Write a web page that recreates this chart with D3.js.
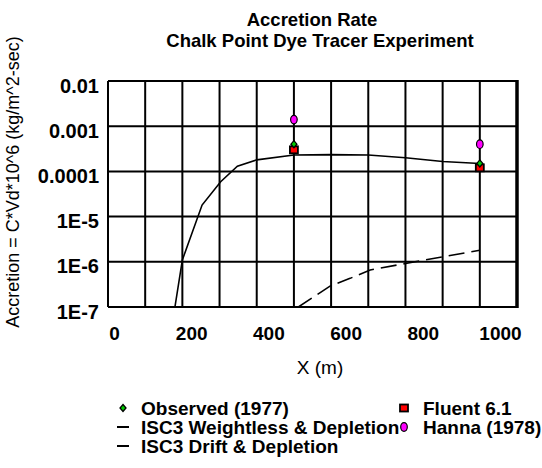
<!DOCTYPE html>
<html>
<head>
<meta charset="utf-8">
<script src="https://cdn.jsdelivr.net/npm/d3@7"></script>
<style>
  body { margin: 0; background: #fff; }
  svg { font-family: "Liberation Sans", Arial, sans-serif; }
</style>
</head>
<body>
<svg id="chart" width="542" height="468"></svg>
<script>
// weightless & depletion curve (solid)
var weightlessX = [180, 200, 253, 303, 348, 400, 500, 600, 700, 800, 900, 1000];
var weightlessY = [1e-7, 1.1e-6, 1.8e-5, 5.9e-5, 1.3e-4, 1.8e-4, 2.3e-4, 2.35e-4, 2.3e-4, 2.0e-4, 1.65e-4, 1.5e-4];

// drift & depletion curve (dashed)
var driftX = [512, 597, 651, 705, 804, 903, 1000];
var driftY = [1e-7, 2.9e-7, 4.3e-7, 6.6e-7, 9.3e-7, 1.3e-6, 1.8e-6];

var observedX = [500, 1000];
var observedY = [4.0e-4, 1.5e-4];
var fluentX = [500, 1000];
var fluentY = [3.0e-4, 1.2e-4];
var hannaX = [500, 1000];
var hannaY = [1.4e-3, 4.0e-4];

var xTicks = [0, 200, 400, 600, 800, 1000];
var xGrid = [0, 100, 200, 300, 400, 500, 600, 700, 800, 900, 1000, 1100];
var yTicks = [1e-2, 1e-3, 1e-4, 1e-5, 1e-6, 1e-7];
var yTickLabels = ["0.01", "0.001", "0.0001", "1E-5", "1E-6", "1E-7"];

var MARGINS = { left: 108, right: 25, top: 81, bottom: 161 };
var WIDTH = 542, HEIGHT = 468;

var svg = d3.select("#chart");

var xRange = d3.scaleLinear().domain([0, 1100]).range([MARGINS.left, WIDTH - MARGINS.right]);
var yRange = d3.scaleLog().domain([1e-7, 1e-2]).range([HEIGHT - MARGINS.bottom, MARGINS.top]);
// the tick labels sit a bit to the right of their gridlines in the original
var xLabelRange = d3.scaleLinear().domain([0, 1000]).range([114, 500]);

// clip for the curves
svg.append("defs").append("clipPath").attr("id", "clip")
    .append("rect")
    .attr("x", MARGINS.left).attr("y", MARGINS.top)
    .attr("width", WIDTH - MARGINS.left - MARGINS.right)
    .attr("height", HEIGHT - MARGINS.top - MARGINS.bottom);

// grid
var grid = svg.append("g").attr("class", "grid");
grid.selectAll(".vgrid").data(xGrid).enter().append("line")
    .attr("x1", function (d) { return xRange(d); })
    .attr("x2", function (d) { return xRange(d); })
    .attr("y1", yRange(1e-7)).attr("y2", yRange(1e-2))
    .attr("stroke", "#000").attr("stroke-width", 2);
grid.selectAll(".hgrid").data(yTicks).enter().append("line")
    .attr("y1", function (d) { return yRange(d); })
    .attr("y2", function (d) { return yRange(d); })
    .attr("x1", xRange(0)).attr("x2", xRange(1100))
    .attr("stroke", "#000").attr("stroke-width", 2);
svg.append("line")
    .attr("x1", xRange(1100)).attr("x2", xRange(1100))
    .attr("y1", yRange(1e-7) + 1).attr("y2", yRange(1e-2) - 1)
    .attr("stroke", "#000").attr("stroke-width", 3.5);

// y tick labels
var yAxis = d3.axisLeft(yRange).tickValues(yTicks)
    .tickFormat(function (d, i) { return yTickLabels[i]; })
    .tickSize(0).tickPadding(9);
var y2 = svg.append("g").attr("transform", "translate(" + MARGINS.left + ",0)").call(yAxis);
y2.select(".domain").remove();
y2.selectAll("text").attr("font-family", null).attr("font-size", null)
    .style("font-size", "20px").style("font-weight", "bold").attr("dy", "0.55em")
    .attr("fill", "#000");

// x tick labels
var xAxis = d3.axisBottom(xLabelRange).tickValues(xTicks).tickFormat(d3.format("d"))
    .tickSize(0).tickPadding(20);
var x2 = svg.append("g").attr("transform", "translate(0," + (HEIGHT - MARGINS.bottom) + ")").call(xAxis);
x2.select(".domain").remove();
x2.selectAll("text").attr("font-family", null).attr("font-size", null)
    .style("font-size", "19px").style("font-weight", "bold").attr("fill", "#000");

// curves
var lineFunc = d3.line()
    .x(function (d) { return xRange(d[0]); })
    .y(function (d) { return yRange(d[1]); });

var curves = svg.append("g").attr("clip-path", "url(#clip)");
curves.append("path")
    .attr("d", lineFunc(d3.zip(weightlessX, weightlessY)))
    .attr("fill", "none").attr("stroke", "#000").attr("stroke-width", 1.6);
curves.append("path")
    .attr("d", lineFunc(d3.zip(driftX, driftY)))
    .attr("fill", "none").attr("stroke", "#000").attr("stroke-width", 1.6)
    .attr("stroke-dasharray", "16,7");

// markers
function diamond(g, cx, cy, fill) {
    g.append("path")
        .attr("d", "M" + cx + "," + (cy - 3.5) + " L" + (cx + 3) + "," + cy + " L" + cx + "," + (cy + 3.5) + " L" + (cx - 3) + "," + cy + "Z")
        .attr("fill", fill).attr("stroke", "#000").attr("stroke-width", 1.3);
}
function square(g, cx, cy) {
    g.append("rect").attr("x", cx - 4).attr("y", cy - 3.5).attr("width", 8).attr("height", 7)
        .attr("fill", "#ff0000").attr("stroke", "#000").attr("stroke-width", 1.8);
}
function oval(g, cx, cy) {
    g.append("ellipse").attr("cx", cx).attr("cy", cy).attr("rx", 3.3).attr("ry", 4.3)
        .attr("fill", "#ff00ff").attr("stroke", "#000").attr("stroke-width", 1.2);
}

var marks = svg.append("g");
fluentX.forEach(function (x, i) { square(marks, xRange(x), yRange(fluentY[i])); });
observedX.forEach(function (x, i) { diamond(marks, xRange(x), yRange(observedY[i]), "#00cc00"); });
hannaX.forEach(function (x, i) { oval(marks, xRange(x), yRange(hannaY[i])); });

// titles
svg.append("text").attr("x", 312).attr("y", 26).attr("text-anchor", "middle")
    .style("font-size", "18.5px").style("font-weight", "bold").text("Accretion Rate");
svg.append("text").attr("x", 320).attr("y", 47).attr("text-anchor", "middle")
    .style("font-size", "18.5px").style("font-weight", "bold").text("Chalk Point Dye Tracer Experiment");

svg.append("text").attr("x", 320).attr("y", 374).attr("text-anchor", "middle")
    .style("font-size", "19px").text("X (m)");

svg.append("text")
    .attr("transform", "translate(19,182) rotate(-90)")
    .attr("text-anchor", "middle")
    .style("font-size", "18px").text("Accretion = C*Vd*10^6 (kg/m^2-sec)");

// legend
var legend = svg.append("g").style("font-size", "19px").style("font-weight", "bold");
diamond(legend, 123, 408, "#00cc00");
legend.append("text").attr("x", 141).attr("y", 415).text("Observed (1977)");
legend.append("line").attr("x1", 117).attr("x2", 129).attr("y1", 427).attr("y2", 427)
    .attr("stroke", "#000").attr("stroke-width", 2);
legend.append("text").attr("x", 141).attr("y", 434).text("ISC3 Weightless & Depletion");
legend.append("line").attr("x1", 117).attr("x2", 129).attr("y1", 446).attr("y2", 446)
    .attr("stroke", "#000").attr("stroke-width", 2);
legend.append("text").attr("x", 141).attr("y", 453).text("ISC3 Drift & Depletion");
square(legend, 404, 408);
legend.append("text").attr("x", 423).attr("y", 415).text("Fluent 6.1");
oval(legend, 404, 427);
legend.append("text").attr("x", 423).attr("y", 434).text("Hanna (1978)");
</script>
</body>
</html>
